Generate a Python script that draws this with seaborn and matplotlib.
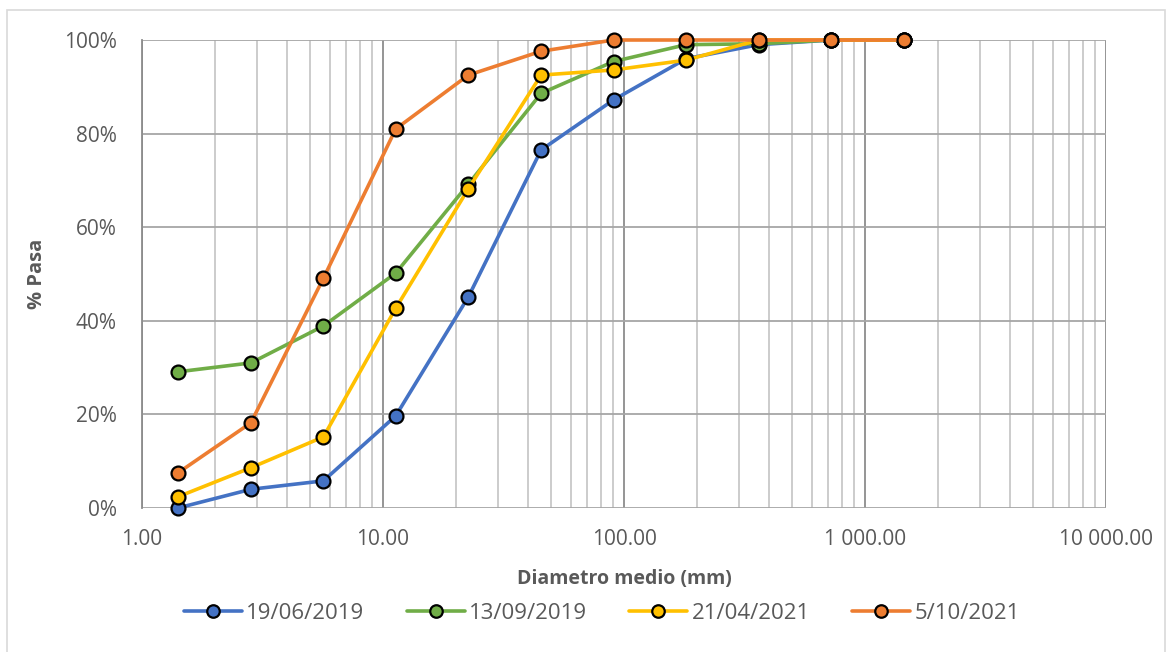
import matplotlib
matplotlib.use("Agg")

import matplotlib.pyplot as plt
import matplotlib.ticker as mticker
import pandas as pd
import seaborn as sns

# ==========================================================
# Data
# ==========================================================

DIAMETRO = [1.41, 2.83, 5.66, 11.3, 22.6, 45.3, 90.5, 181, 362, 724, 1448]

PASA_190619 = [0.000, 0.040, 0.058, 0.197, 0.451, 0.765, 0.872, 0.960, 0.990, 1.0, 1.0]
PASA_130919 = [0.291, 0.310, 0.389, 0.502, 0.692, 0.886, 0.954, 0.990, 0.992, 1.0, 1.0]
PASA_210421 = [0.024, 0.086, 0.152, 0.427, 0.682, 0.925, 0.936, 0.957, 1.0, 1.0, 1.0]
PASA_051021 = [0.075, 0.182, 0.491, 0.810, 0.925, 0.976, 1.0, 1.0, 1.0, 1.0, 1.0]

FECHAS = ["19/06/2019", "13/09/2019", "21/04/2021", "5/10/2021"]
COLORES = ["#4472C4", "#70AD47", "#FFC000", "#ED7D31"]

X_TICKS = [1, 10, 100, 1000, 10000]
Y_TICKS = [0, 0.2, 0.4, 0.6, 0.8, 1.0]

# ==========================================================
# Plot
# ==========================================================

sns.set_style("white")
plt.rcParams["font.family"] = ["Open Sans", "DejaVu Sans"]

fig = plt.figure(figsize=(11.73, 6.52), dpi=100)

# light chart border like the excel frame
fig.patches.append(plt.Rectangle(
    (7 / 1173, -0.1), 1158 / 1173, 1.1 - 10 / 652,
    transform=fig.transFigure, fill=False,
    edgecolor="#d9d9d9", linewidth=1.2
))

ax = fig.add_axes([142 / 1173, 144 / 652, 964 / 1173, 468 / 652])

series = [PASA_190619, PASA_130919, PASA_210421, PASA_051021]

for fecha, valores, color in zip(FECHAS, series, COLORES):
    df = pd.DataFrame({"diametro": DIAMETRO, "pasa": valores})
    sns.lineplot(
        data=df,
        x="diametro",
        y="pasa",
        ax=ax,
        color=color,
        linewidth=2.6,
        marker="o",
        markersize=10,
        markerfacecolor=color,
        markeredgecolor="black",
        markeredgewidth=1.6,
        sort=False,
        label=fecha,
        clip_on=False,
        zorder=5
    )

ax.set_xscale("log")
ax.set_xlim(1, 10000)
ax.set_ylim(0, 1)

ax.set_xticks(X_TICKS)
ax.xaxis.set_major_formatter(
    mticker.FuncFormatter(lambda v, p: f"{v:,.2f}".replace(",", " "))
)
ax.xaxis.set_minor_locator(mticker.LogLocator(base=10, subs=range(2, 10)))
ax.xaxis.set_minor_formatter(mticker.NullFormatter())

ax.set_yticks(Y_TICKS)
ax.yaxis.set_major_formatter(mticker.PercentFormatter(1, decimals=0))

ax.grid(which="major", axis="x", color="#8c8c8c", linewidth=1.3)
ax.grid(which="minor", axis="x", color="#c8c8c8", linewidth=1.3)
ax.grid(which="major", axis="y", color="#a6a6a6", linewidth=1.3)
ax.set_axisbelow(True)

for side in ["top", "right", "bottom"]:
    ax.spines[side].set_visible(False)
ax.spines["left"].set_color("#8c8c8c")
ax.spines["left"].set_linewidth(1.3)

ax.tick_params(axis="both", which="both", length=0, labelsize=15,
               labelcolor="#595959")
ax.tick_params(axis="x", pad=15)
ax.tick_params(axis="y", pad=18)

ax.set_xlabel("Diametro medio (mm)", fontsize=14, fontweight="bold",
              color="#595959", labelpad=14)
ax.set_ylabel("% Pasa", fontsize=14.5, fontweight="bold",
              color="#595959", labelpad=12)

ax.legend(
    loc="center",
    bbox_to_anchor=(0.477, -0.225),
    ncol=4,
    frameon=False,
    fontsize=16,
    labelcolor="#595959",
    markerscale=0.9,
    handlelength=2.6,
    handletextpad=0.2,
    columnspacing=1.9
)

fig.savefig("out.png", dpi=100)
